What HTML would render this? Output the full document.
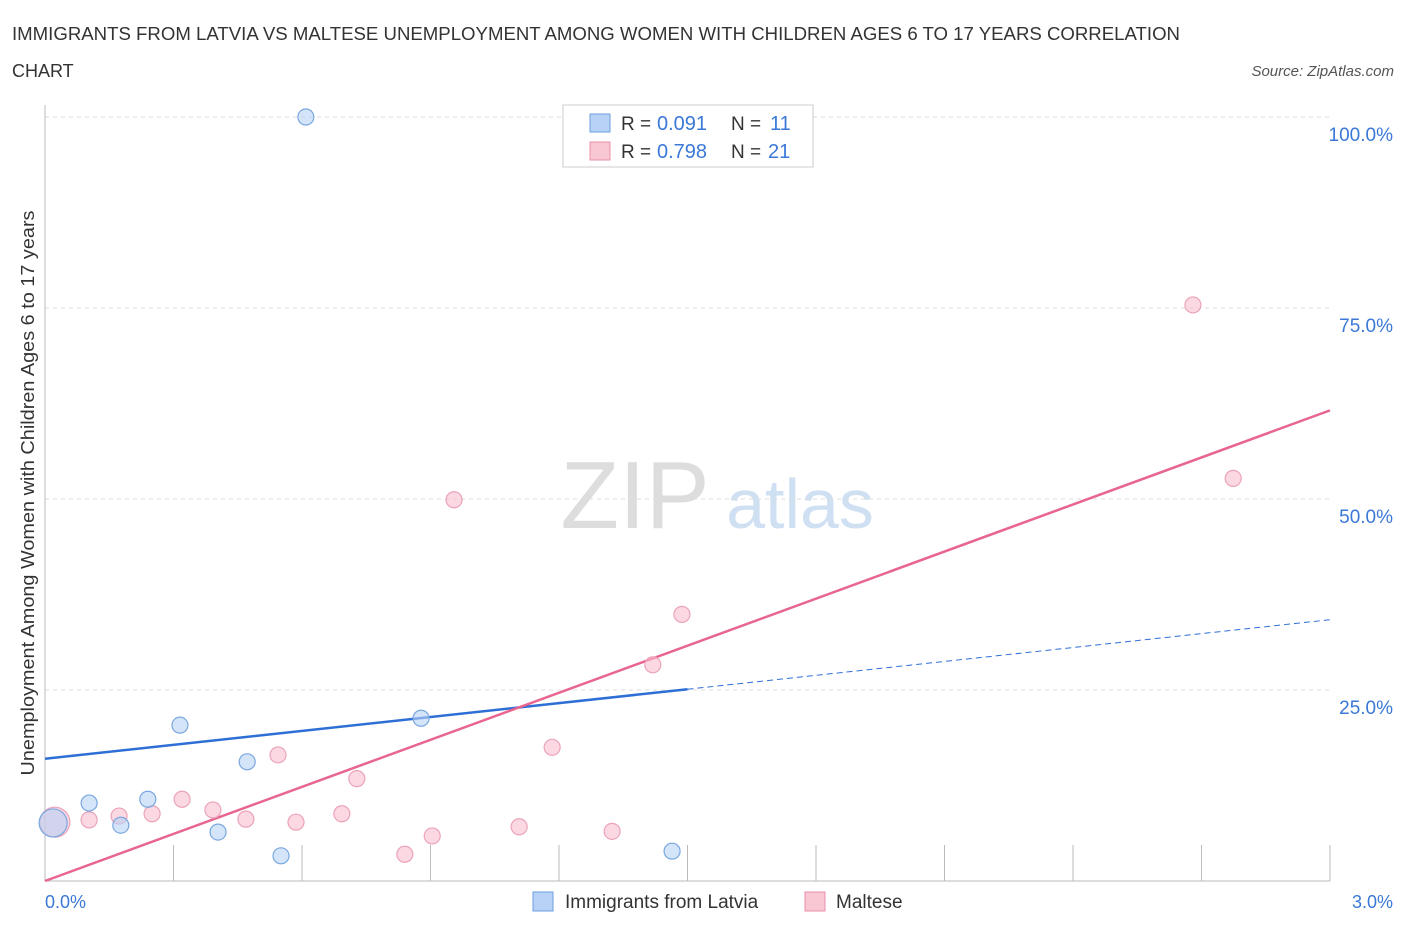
<!DOCTYPE html>
<html><head><meta charset="utf-8"><style>
body{margin:0;background:#fff;font-family:"Liberation Sans",sans-serif;}
svg text{font-family:"Liberation Sans",sans-serif;}
</style></head><body>
<svg width="1406" height="930">
<text x="12" y="40" font-size="18" fill="#333" textLength="1168" lengthAdjust="spacingAndGlyphs">IMMIGRANTS FROM LATVIA VS MALTESE UNEMPLOYMENT AMONG WOMEN WITH CHILDREN AGES 6 TO 17 YEARS CORRELATION</text>
<text x="12" y="77" font-size="18" fill="#333">CHART</text>
<text x="1394" y="76" font-size="15" fill="#555" font-style="italic" text-anchor="end">Source: ZipAtlas.com</text>
<text x="635" y="528" font-size="96" fill="#ddd" font-family="Liberation Serif" text-anchor="middle">ZIP</text>
<text x="800" y="528" font-size="70" fill="#cfe0f3" text-anchor="middle">atlas</text>
<g id="grid"></g><g id="axes"></g><g id="lines"></g><g id="points"></g>
<text transform="translate(34,493) rotate(-90)" font-size="18" fill="#333" text-anchor="middle" textLength="565" lengthAdjust="spacingAndGlyphs">Unemployment Among Women with Children Ages 6 to 17 years</text>
<text x="45" y="908" font-size="18" fill="#3b78d8">0.0%</text>
<text x="1393" y="908" font-size="18" fill="#3b78d8" text-anchor="end">3.0%</text>
<g>
<rect x="563" y="105" width="250" height="62" fill="#fff" stroke="#ccc"/>
<rect x="590" y="114" width="20" height="18" fill="#b7d2f5" stroke="#6a9fe0"/>
<text x="621" y="130" font-size="19" fill="#333">R = </text><text x="657" y="130" font-size="20" fill="#3b78d8">0.091</text>
<text x="731" y="130" font-size="19" fill="#333">N = </text><text x="770" y="130" font-size="20" fill="#3b78d8">11</text>
<rect x="590" y="142" width="20" height="18" fill="#f9c6d3" stroke="#e98fa9"/>
<text x="621" y="158" font-size="19" fill="#333">R = </text><text x="657" y="158" font-size="20" fill="#3b78d8">0.798</text>
<text x="731" y="158" font-size="19" fill="#333">N = </text><text x="768" y="158" font-size="20" fill="#3b78d8">21</text>
</g>
<g>
<rect x="533" y="892" width="20" height="19" fill="#b7d2f5" stroke="#6a9fe0"/>
<text x="565" y="908" font-size="19" fill="#333">Immigrants from Latvia</text>
<rect x="805" y="892" width="20" height="19" fill="#f9c6d3" stroke="#e98fa9"/>
<text x="836" y="908" font-size="19" fill="#333">Maltese</text>
</g>
</svg>
<script>
const yTicks=[25,50,75,100];
const yTickLabels=["25.0%","50.0%","75.0%","100.0%"];
const blueX=[0.609,0.315,0.103,0.240,0.177,0.404,0.472,0.551,0.878,1.464,0.019];
const blueY=[100,20.4,10.2,10.7,7.3,6.4,15.6,3.3,21.3,3.9,7.6];
const pinkX=[2.680,2.774,0.955,1.487,1.419,1.184,0.544,0.728,0.320,0.392,0.250,0.173,0.103,0.469,0.586,0.693,1.107,1.324,0.904,0.840,0.023];
const pinkY=[75.4,52.7,49.9,34.9,28.3,17.5,16.5,13.4,10.7,9.3,8.8,8.5,8.0,8.1,7.7,8.8,7.1,6.5,5.9,3.5,7.7];
const blueLine=[16.0,34.2];
const pinkLine=[0,61.6];
const X=v=>45+v/3*1285, Y=v=>881-v*7.64;
const NS="http://www.w3.org/2000/svg";
function mk(p,t,a){const e=document.createElementNS(NS,t);for(const k in a)e.setAttribute(k,a[k]);document.getElementById(p).appendChild(e);return e;}
yTicks.forEach((t,i)=>{
 const l=mk('grid','line',{x1:45,x2:1330,y1:Y(t),y2:Y(t),stroke:'#ddd','stroke-dasharray':'4,4'});
 
 
 const tx=mk('grid','text',{x:1393,y:Y(t)+24,'font-size':19,fill:'#3b78d8','text-anchor':'end'});
 tx.textContent=yTickLabels[i];
 
 
});
const xa=mk('axes','line',{x1:45,x2:1330,y1:881,y2:881,stroke:'#bbb'});


const ya=mk('axes','line',{x1:45,x2:45,y1:105,y2:881,stroke:'#bbb'});


for(let i=0;i<=10;i++){const t=mk('axes','line',{x1:X(i*0.3),x2:X(i*0.3),y1:845,y2:881,stroke:'#bbb'});
 
 }
const bl1=mk('lines','line',{x1:X(0),y1:Y(blueLine[0]),x2:X(1.5),y2:Y((blueLine[0]+blueLine[1])/2),stroke:'#2e6fd6','stroke-width':2.5});


const bl2=mk('lines','line',{x1:X(1.5),y1:Y((blueLine[0]+blueLine[1])/2),x2:X(3),y2:Y(blueLine[1]),stroke:'#2e6fd6','stroke-width':1,'stroke-dasharray':'6,4'});


const pl=mk('lines','line',{x1:X(0),y1:Y(pinkLine[0]),x2:X(3),y2:Y(pinkLine[1]),stroke:'#e8658f','stroke-width':2.5});


pinkX.forEach((x,i)=>{const c=mk('points','circle',{cx:X(x),cy:Y(pinkY[i]),r:i==pinkX.length-1?15:8,fill:'rgba(249,190,207,0.6)',stroke:'#eba3b9','stroke-width':1.2});
 
 });
blueX.forEach((x,i)=>{const c=mk('points','circle',{cx:X(x),cy:Y(blueY[i]),r:i==blueX.length-1?14:8,fill:'rgba(183,210,245,0.6)',stroke:'#7aa7e0','stroke-width':1.2});
 
 });
</script>
</body></html>
